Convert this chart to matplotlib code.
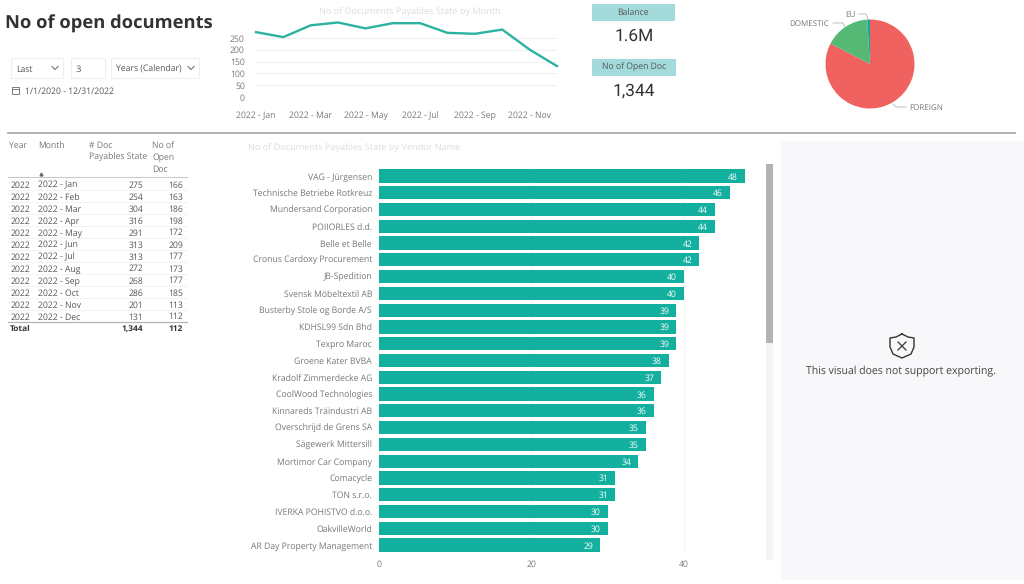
import matplotlib
matplotlib.use("Agg")
import matplotlib.pyplot as plt
from matplotlib.patches import Rectangle

W, H = 1024, 584
plt.rcParams['font.family'] = ['Open Sans', 'DejaVu Sans']
plt.rcParams['text.hinting'] = 'no_hinting'

months = ['2022 - Jan', '2022 - Feb', '2022 - Mar', '2022 - Apr', '2022 - May', '2022 - Jun',
          '2022 - Jul', '2022 - Aug', '2022 - Sep', '2022 - Oct', '2022 - Nov', '2022 - Dec']
doc_payables = [275, 254, 304, 316, 291, 313, 313, 272, 268, 286, 201, 131]
open_docs = [166, 163, 186, 198, 172, 209, 177, 173, 177, 185, 113, 112]
total_open = '1,344'
total_last = '112'
line_values = doc_payables
pie_labels = ['FOREIGN', 'DOMESTIC', 'EU']
pie_values = [82.6, 16.4, 1.0]
pie_colors = ['#f0625f', '#55b874', '#13a89a']
vendors = ['VAG - Jürgensen', 'Technische Betriebe Rotkreuz', 'Mundersand Corporation', 'POIIORLES d.d.',
           'Belle et Belle', 'Cronus Cardoxy Procurement', 'JB-Spedition', 'Svensk Möbeltextil AB',
           'Busterby Stole og Borde A/S', 'KDHSL99 Sdn Bhd', 'Texpro Maroc', 'Groene Kater BVBA',
           'Kradolf Zimmerdecke AG', 'CoolWood Technologies', 'Kinnareds Träindustri AB',
           'Overschrijd de Grens SA', 'Sägewerk Mittersill', 'Mortimor Car Company', 'Comacycle',
           'TON s.r.o.', 'IVERKA POHISTVO d.o.o.', 'OakvilleWorld', 'AR Day Property Management']
vendor_values = [48, 46, 44, 44, 42, 42, 40, 40, 39, 39, 39, 38, 37, 36, 36, 35, 35, 34, 31, 31, 30, 30, 29]

fig = plt.figure(figsize=(W / 100, H / 100), dpi=100, facecolor='white')


def axes_px(x0, y0, x1, y1, **kw):
    return fig.add_axes([x0 / W, 1 - y1 / H, (x1 - x0) / W, (y1 - y0) / H], **kw)


# Page overlay in pixel coordinates
bg = axes_px(0, 0, W, H)
bg.set_xlim(0, W)
bg.set_ylim(H, 0)
bg.axis('off')


def T(x, y, s, size=6.2, color='#666666', ha='left', weight='normal', **kw):
    bg.text(x, y, s, fontsize=size, color=color, ha=ha, va='center_baseline', fontweight=weight, **kw)


bg.add_patch(Rectangle((781, 141), 243, 439, fc='#f8f8fb', ec='none'))
bg.plot([8, 1015], [132.5, 132.5], color='#ababab', lw=1.3)

# Title and slicer
T(5, 22, 'No of open documents', size=13.2, color='#333333', weight='bold')
for x0, x1 in [(11, 63), (71, 105), (111, 199)]:
    bg.add_patch(Rectangle((x0, 58), x1 - x0, 20, fc='white', ec='#efefef', lw=0.8))
T(16, 68, 'Last', size=6.2, color='#555555')
T(76, 68, '3', size=6.8, color='#555555')
T(116, 68, 'Years (Calendar)', size=6.2, color='#555555')
for cx in (55, 191):
    bg.plot([cx - 3, cx, cx + 3], [66.5, 69.5, 66.5], color='#666666', lw=0.7)
bg.add_patch(Rectangle((12, 87), 7, 7, fc='none', ec='#777777', lw=0.7))
bg.plot([12, 19], [89, 89], color='#777777', lw=0.7)
T(25, 90.5, '1/1/2020 - 12/31/2022', size=6.2, color='#555555')

# KPI cards
bg.add_patch(Rectangle((592, 4), 83, 17, fc='#a3dbdc', ec='none'))
bg.add_patch(Rectangle((592, 59), 84, 17, fc='#a3dbdc', ec='none'))
T(633, 11.5, 'Balance', size=6.2, color='#555555', ha='center')
T(634, 66.5, 'No of Open Doc', size=6.2, color='#555555', ha='center')
T(634, 34, '1.6M', size=12.5, color='#333333', ha='center', family='Roboto')
T(634, 89, '1,344', size=12.5, color='#333333', ha='center', family='Roboto')

# Table
T(9, 144.5, 'Year', color='#777777')
T(38, 144.5, 'Month', color='#777777')
T(89, 144.5, '# Doc', color='#777777')
T(89, 156.5, 'Payables State', color='#777777')
for y, s in zip((144.5, 156.5, 168.5), ('No of', 'Open', 'Doc')):
    T(152, y, s, color='#777777')
bg.plot([40.5], [174], marker='^', ms=2, color='#666666')
bg.plot([8, 187], [177, 177], color='#c9c9c9', lw=0.8)
for i, (m, d, o) in enumerate(zip(months, doc_payables, open_docs)):
    y = 184 + i * 12
    T(11, y, '2022', color='#555555')
    T(38, y, m, color='#555555')
    T(143, y, str(d), color='#555555', ha='right')
    T(183, y, str(o), color='#555555', ha='right')
    if i < 11:
        bg.plot([8, 187], [y + 6, y + 6], color='#f0f0f0', lw=0.6)
bg.plot([8, 187], [321.5, 321.5], color='#b5b5b5', lw=0.9)
T(10, 328, 'Total', size=6.0, color='#333333', weight='bold')
T(143, 328, total_open, size=6.0, color='#333333', ha='right', weight='bold')
T(183, 328, total_last, size=6.0, color='#333333', ha='right', weight='bold')

# Chart titles
T(410, 11, 'No of Documents Payables State by Month', size=6.55, color='#dcdcdc', ha='center')
T(248, 147, 'No of Documents Payables State by Vendor Name', size=6.55, color='#dcdcdc')

# Line chart
ax = axes_px(256, 18, 557, 97)
ax.patch.set_alpha(0)
ax.plot(range(12), line_values, color='#2bb3a0', lw=1.7, solid_joinstyle='round', clip_on=False)
ax.set_xlim(0, 11)
ax.set_ylim(0, 335)
ax.set_yticks([0, 50, 100, 150, 200, 250])
ax.set_xticks(range(0, 12, 2))
ax.set_xticklabels(months[::2], va='baseline')
ax.grid(axis='y', color='#f0f0f0', lw=0.8)
ax.set_axisbelow(True)
ax.tick_params(length=0, labelsize=6.2, labelcolor='#777777')
ax.tick_params(axis='x', pad=15)
ax.tick_params(axis='y', pad=8)
for s in ax.spines.values():
    s.set_visible(False)

# Pie
pax = axes_px(825.5, 19.5, 914.5, 108.5)
pax.pie(pie_values, colors=pie_colors, startangle=90, counterclock=False, radius=1)
pax.set_xlim(-1, 1)
pax.set_ylim(-1, 1)
for xs, ys in [([833, 843, 845], [23, 23, 27]), ([859, 866, 868], [14, 14, 19]), ([893, 896, 906], [104, 107, 107])]:
    bg.plot(xs, ys, color='#b5b5b5', lw=0.6)
T(829, 23, pie_labels[1], size=5.8, color='#777777', ha='right')
T(855, 14, pie_labels[2], size=5.8, color='#777777', ha='right')
T(909, 107, pie_labels[0], size=5.8, color='#777777')

# Bar chart
bax = axes_px(379, 167.6, 766, 553.4)
pos = list(range(len(vendors)))
bax.barh(pos, vendor_values, height=0.79, color='#13b0a0')
bax.set_xlim(0, 387 / 7.625)
bax.set_ylim(22.5, -0.5)
bax.set_yticks(pos)
bax.set_yticklabels(vendors)
bax.set_xticks([0, 20, 40])
bax.grid(axis='x', color='#f4f4f4', lw=0.7)
bax.set_axisbelow(True)
bax.tick_params(length=0, labelcolor='#777777')
bax.tick_params(axis='y', pad=5, labelsize=6.2)
bax.tick_params(axis='x', pad=5, labelsize=6.2)
for s in bax.spines.values():
    s.set_visible(False)
for p, v in zip(pos, vendor_values):
    bax.annotate(str(v), (v, p), xytext=(-5, 0), textcoords='offset points', ha='right', va='center_baseline',
                 color='white', fontsize=6.2)

# Scrollbar
bg.add_patch(Rectangle((766, 164), 7, 396, fc='#f5f5f5', ec='none'))
bg.add_patch(Rectangle((766, 164), 7, 179, fc='#b3b3b3', ec='none'))

# Shield icon and message
sx = [902, 908, 914, 914, 911, 902, 893, 890, 890, 896, 902]
sy = [334, 337, 338, 347, 354, 358, 354, 347, 338, 337, 334]
bg.plot(sx, sy, color='#333333', lw=1.0, solid_joinstyle='round')
bg.plot([898, 906], [342, 350], color='#333333', lw=0.9)
bg.plot([898, 906], [350, 342], color='#333333', lw=0.9)
T(901, 370.5, 'This visual does not support exporting.', size=7.6, color='#444444', ha='center')

fig.savefig('out.png', dpi=100, facecolor='white')
